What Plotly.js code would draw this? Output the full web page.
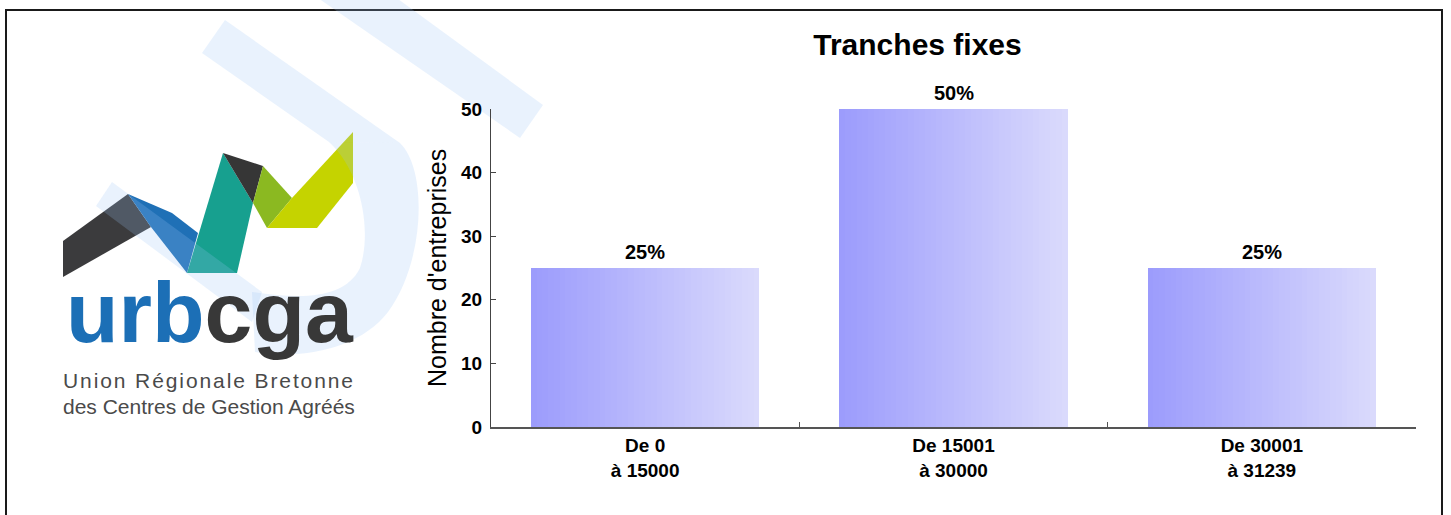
<!DOCTYPE html>
<html>
<head>
<meta charset="utf-8">
<script src="https://cdn.plot.ly/plotly-3.0.1.min.js"></script>
<style>
  html, body { margin: 0; padding: 0; background: #ffffff; }
  #chart { width: 1451px; height: 515px; }
</style>
</head>
<body>
<div id="chart"></div>
<script>
// ---- data ----
const categories = ['De 0<br>à 15000', 'De 15001<br>à 30000', 'De 30001<br>à 31239'];
const counts = [25, 50, 25];
const yTickValues = [0, 10, 20, 30, 40, 50];
const chartTitle = 'Tranches fixes';
const yTitle = "Nombre d'entreprises";
const logoWord1 = 'urb';
const logoWord2 = 'cga';
const logoLine1 = 'Union Régionale Bretonne';
const logoLine2 = 'des Centres de Gestion Agréés';

const total = counts.reduce((a, b) => a + b, 0);
const pctLabels = counts.map(v => Math.round(v / total * 100) + '%');

// ---- geometry helpers (plot area in pixels) ----
const W = 1451, H = 515;
const L = 491, R = 1416, T = 109, B = 427;
const PW = R - L, PH = B - T;
const px = x => (x - L) / PW;
const py = y => (B - y) / PH;
function poly(pts) {
  return 'M ' + pts.map(p => px(p[0]).toFixed(5) + ',' + py(p[1]).toFixed(5)).join(' L ') + ' Z';
}
function pathCmd(cmds) {
  return cmds.map(c => c[0] + ' ' + c.slice(1).map(p => px(p[0]).toFixed(5) + ',' + py(p[1]).toFixed(5)).join(' ')).join(' ');
}

const FONT = 'Liberation Sans, Arial, Helvetica, sans-serif';

// ---- gradient bars: thin slices of each bar ----
const barWidth = 0.74;
const N = 40;
const cLeft = [156, 156, 252];
const cRight = [218, 218, 252];
const traces = [];
for (let i = 0; i < N; i++) {
  const t = i / (N - 1);
  const c = cLeft.map((v, k) => Math.round(v + (cRight[k] - v) * t));
  const sw = barWidth / N;
  traces.push({
    type: 'bar',
    x: categories,
    y: counts,
    offset: -barWidth / 2 + i * sw,
    width: i < N - 1 ? sw * 1.8 : sw,
    marker: { color: 'rgb(' + c.join(',') + ')', line: { width: 0 } },
    hoverinfo: 'skip',
    showlegend: false
  });
}

// ---- shapes ----
const shapes = [];
// frame
shapes.push({
  type: 'rect', xref: 'paper', yref: 'paper', layer: 'below',
  x0: px(6), x1: px(1442), y0: py(10), y1: py(530),
  line: { color: '#1a1a1a', width: 2 }, fillcolor: 'rgba(0,0,0,0)'
});
// logo ribbons
const logoParts = [
  { pts: [[63, 241], [128, 194], [151, 227], [63, 277]], color: '#3b3b3d' },
  { pts: [[128, 194], [172, 213], [198, 233], [187, 273], [151, 227]], color: '#1f70b6' },
  { pts: [[187, 273], [223, 153], [253, 203], [237, 273]], color: '#17a08f' },
  { pts: [[223, 153], [263, 166], [253, 203]], color: '#363636' },
  { pts: [[263, 166], [292, 198], [267, 228], [253, 203]], color: '#8bb921' },
  { pts: [[267, 228], [317, 228], [353, 183], [353, 132], [292, 198]], color: '#c5d300' }
];
logoParts.forEach(p => shapes.push({
  type: 'path', xref: 'paper', yref: 'paper', layer: 'below',
  path: poly(p.pts), fillcolor: p.color, line: { width: 0 }
}));
// watermark (very light blue, semi-transparent)
const wm = 'rgba(153,197,246,0.22)';
const wmShapes = [
  poly([[292, -20], [372, -20], [543, 105], [520, 138]]),
  poly([[225, 20], [400, 143], [329, 142], [202, 53]]),
  pathCmd([
    ['M', [400, 143]],
    ['C', [428, 170], [425, 262], [388, 312]],
    ['C', [360, 348], [305, 360], [255, 352]],
    ['L', [252, 292]],
    ['C', [305, 300], [345, 298], [360, 268]],
    ['C', [372, 232], [362, 172], [329, 142]],
    ['Z']
  ]),
  poly([[112, 182], [262, 292], [252, 322], [96, 206]])
];
wmShapes.forEach(p => shapes.push({
  type: 'path', xref: 'paper', yref: 'paper', layer: 'below',
  path: p, fillcolor: wm, line: { width: 0 }
}));

// ---- annotations ----
const annotations = [];
categories.forEach((c, i) => annotations.push({
  x: c, y: counts[i], xref: 'x', yref: 'y',
  text: pctLabels[i], showarrow: false,
  yanchor: 'bottom', yshift: 3,
  font: { family: FONT, size: 20, color: '#000', weight: 700 }
}));
annotations.push({
  xref: 'paper', yref: 'paper', x: px(437), y: py(268),
  text: yTitle, textangle: -90, showarrow: false,
  xanchor: 'center', yanchor: 'middle',
  font: { family: FONT, size: 25, color: '#000' }
});
annotations.push({
  xref: 'paper', yref: 'paper', x: px(210), y: py(312),
  xanchor: 'center', yanchor: 'middle', showarrow: false,
  text: '<span style="color:#1c6fb6">' + logoWord1 + '</span><span style="color:#383838">' + logoWord2 + '</span>',
  font: { family: FONT, size: 86, weight: 700, color: '#383838' }
});
annotations.push({
  xref: 'paper', yref: 'paper', x: px(209), y: py(380),
  xanchor: 'center', yanchor: 'middle', showarrow: false,
  text: '<span style="letter-spacing:1.9px">' + logoLine1 + '</span>',
  font: { family: FONT, size: 21, color: '#4a4a4a' }
});
annotations.push({
  xref: 'paper', yref: 'paper', x: px(209), y: py(406),
  xanchor: 'center', yanchor: 'middle', showarrow: false,
  text: logoLine2,
  font: { family: FONT, size: 21, color: '#4a4a4a' }
});

const layout = {
  width: W, height: H,
  margin: { l: L, r: W - R, t: T, b: H - B, pad: 0 },
  paper_bgcolor: '#ffffff', plot_bgcolor: 'rgba(0,0,0,0)',
  barmode: 'overlay',
  bargap: 0,
  showlegend: false,
  title: {
    text: chartTitle,
    xref: 'container', yref: 'container',
    x: 917.5 / W, y: 1 - 44 / H, xanchor: 'center', yanchor: 'middle',
    font: { family: FONT, size: 30, color: '#000', weight: 700 }
  },
  xaxis: {
    type: 'category',
    tickson: 'boundaries',
    ticks: 'inside', ticklen: 5, tickwidth: 1, tickcolor: '#555',
    showline: true, linecolor: '#555', linewidth: 2,
    showgrid: false, zeroline: false,
    tickfont: { family: FONT, size: 19, color: '#000', weight: 700 },
    ticklabelstandoff: 0,
    fixedrange: true
  },
  yaxis: {
    range: [0, 50],
    tickmode: 'array', tickvals: yTickValues, ticktext: yTickValues.map(String),
    ticks: 'inside', ticklen: 5, tickwidth: 1, tickcolor: '#444',
    showline: true, linecolor: '#444', linewidth: 1,
    showgrid: false, zeroline: false,
    tickfont: { family: FONT, size: 19, color: '#000', weight: 700 },
    ticklabelstandoff: 4,
    fixedrange: true
  },
  shapes: shapes,
  annotations: annotations
};

Plotly.newPlot('chart', traces, layout, { displayModeBar: false, staticPlot: true });
</script>
</body>
</html>
